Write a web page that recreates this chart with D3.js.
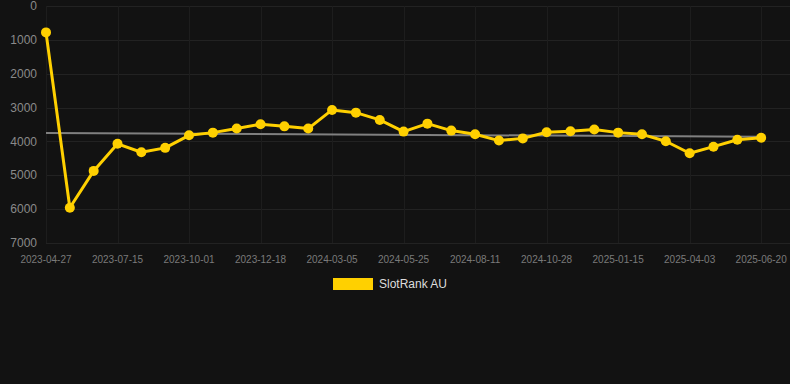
<!DOCTYPE html>
<html lang="en">
<head>
<meta charset="UTF-8">
<title>SlotRank AU</title>
<script src="https://d3js.org/d3.v7.min.js"></script>
<style>
  html, body { margin: 0; padding: 0; background: #121212; }
  svg { display: block; font-family: Arial, "Liberation Sans", sans-serif; }
</style>
</head>
<body>
<div id="chart"></div>
<script>
// rank values, one per point (lower is better, axis inverted)
const rankValues = [780, 5960, 4870, 4070, 4320, 4190, 3820, 3740, 3620, 3490,
  3555, 3620, 3070, 3150, 3365, 3710, 3475, 3680, 3790, 3975,
  3910, 3730, 3700, 3650, 3740, 3790, 3995, 4350, 4155, 3950, 3890];
// labels shown on every third point
const tickLabels = ["2023-04-27", "2023-07-15", "2023-10-01", "2023-12-18", "2024-03-05",
  "2024-05-25", "2024-08-11", "2024-10-28", "2025-01-15", "2025-04-03", "2025-06-20"];
const yTicks = [0, 1000, 2000, 3000, 4000, 5000, 6000, 7000];
// trend line start / end values
const trendValues = [3750, 3860];
const seriesName = "SlotRank AU";

const width = 790, height = 384;
const plot = { left: 46, right: 785, top: 6, bottom: 243 };

const svg = d3.select("#chart").append("svg")
  .attr("width", width).attr("height", height);

svg.append("rect").attr("width", width).attr("height", height).attr("fill", "#121212");

// 31 data points + one empty slot on the right
const x = d3.scaleLinear().domain([0, rankValues.length]).range([plot.left, plot.right]);
const y = d3.scaleLinear().domain([0, 7000]).range([plot.top, plot.bottom]);

// horizontal grid
svg.append("g").selectAll("line").data(yTicks).join("line")
  .attr("x1", plot.left).attr("x2", 790)
  .attr("y1", d => Math.round(y(d)) + 0.5).attr("y2", d => Math.round(y(d)) + 0.5)
  .attr("stroke", "#222").attr("stroke-width", 1);

// vertical grid at labelled points
const tickIdx = tickLabels.map((_, i) => i * 3);
svg.append("g").selectAll("line").data(tickIdx).join("line")
  .attr("x1", d => Math.round(x(d)) + 0.5).attr("x2", d => Math.round(x(d)) + 0.5)
  .attr("y1", plot.top).attr("y2", plot.bottom)
  .attr("stroke", "#1d1d1d").attr("stroke-width", 1);

// y labels
svg.append("g").selectAll("text").data(yTicks).join("text")
  .attr("x", 37).attr("y", d => y(d))
  .attr("dy", "0.35em")
  .attr("text-anchor", "end")
  .attr("fill", "#8a8a8a").attr("font-size", 12)
  .text(d => d);

// x labels
svg.append("g").selectAll("text").data(tickLabels).join("text")
  .attr("x", (d, i) => x(i * 3)).attr("y", 259)
  .attr("dy", "0.35em")
  .attr("text-anchor", "middle")
  .attr("fill", "#7a7a7a").attr("font-size", 10)
  .text(d => d);

// trend line
svg.append("line")
  .attr("x1", x(0)).attr("x2", x(rankValues.length - 1))
  .attr("y1", y(trendValues[0])).attr("y2", y(trendValues[1]))
  .attr("stroke", "#808080").attr("stroke-width", 2);

// series line
const line = d3.line().x((d, i) => x(i)).y(d => y(d));
svg.append("path").datum(rankValues)
  .attr("d", line)
  .attr("fill", "none").attr("stroke", "#FFD000")
  .attr("stroke-width", 3).attr("stroke-linejoin", "round");

svg.append("g").selectAll("circle").data(rankValues).join("circle")
  .attr("cx", (d, i) => x(i)).attr("cy", d => y(d))
  .attr("r", 5).attr("fill", "#FFD000");

// legend
const legend = svg.append("g");
legend.append("rect")
  .attr("x", 333).attr("y", 278).attr("width", 40).attr("height", 12)
  .attr("fill", "#FFD000");
legend.append("text")
  .attr("x", 379).attr("y", 284).attr("dy", "0.35em")
  .attr("fill", "#dddddd").attr("font-size", 12)
  .text(seriesName);
</script>
</body>
</html>
